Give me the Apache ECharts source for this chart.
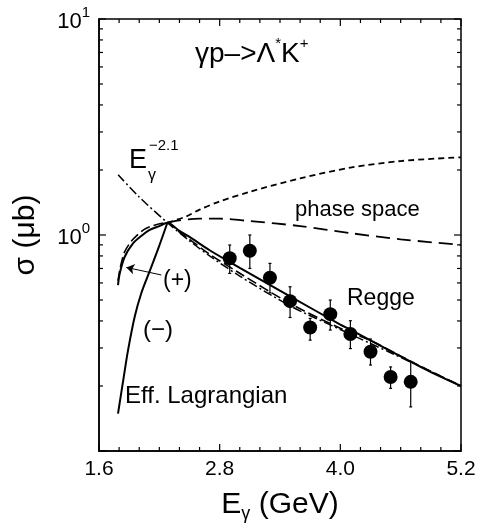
<!DOCTYPE html>
<html>
<head>
<meta charset="utf-8">
<script src="https://cdn.jsdelivr.net/npm/echarts@6/dist/echarts.min.js"></script>
<style>
html,body{margin:0;padding:0;background:#fff;}
#chart{width:479px;height:531px;}
</style>
</head>
<body>
<div id="chart"></div>
<script>
// ---------- data ----------
const energies = [2.9, 3.1, 3.3, 3.5, 3.7, 3.9, 4.1, 4.3, 4.5, 4.7];
const sigmaData = [0.78, 0.846, 0.634, 0.494, 0.373, 0.43, 0.348, 0.288, 0.22, 0.209];
const errLow  = [0.664, 0.70, 0.54, 0.415, 0.326, 0.363, 0.298, 0.25, 0.195, 0.16];
const errHigh = [0.899, 1.0, 0.739, 0.576, 0.411, 0.50, 0.401, 0.33, 0.245, 0.259];

// Eff. Lagrangian (+) joined to Regge, solid
const plusSolid = [[1.789,0.586],[1.806,0.664],[1.856,0.793],[1.938,0.915],[2.02,0.99],[2.104,1.055],[2.2,1.10],[2.28,1.14],
  [2.4,1.045],[2.5,0.98],[2.7,0.85],[3.0,0.705],[3.5,0.52],[4.0,0.385],[4.1,0.365],[4.5,0.29],[4.7,0.259],[4.9,0.232],[5.2,0.2]];
// (+) dashed variant
const plusDashed = [[1.789,0.614],[1.813,0.713],[1.856,0.837],[1.938,0.955],[2.071,1.074],[2.28,1.14],
  [2.4,1.03],[2.5,0.955],[2.7,0.815],[3.0,0.665],[3.5,0.482],[4.0,0.37],[4.3,0.325],[4.6,0.275],[5.0,0.222],[5.2,0.2]];
// Eff. Lagrangian (-) solid
const minusSolid = [[1.789,0.149],[1.846,0.22],[1.889,0.293],[1.955,0.418],[2.022,0.54],[2.104,0.68],[2.187,0.86],[2.28,1.14]];
// E^-2.1 dash-dot
const powerLaw = [[1.79,1.9],[2.0,1.5],[2.28,1.14],[2.5,0.94],[2.7,0.80],[3.0,0.645],[3.5,0.47],[4.0,0.365],[4.5,0.285],[5.0,0.222],[5.2,0.2]];
// upper short-dashed curve
const upperDashed = [[2.28,1.14],[2.47,1.22],[2.6,1.31],[2.8,1.43],[3.1,1.585],[3.6,1.83],[4.1,2.05],[4.6,2.2],[5.2,2.29]];
// phase space long-dashed curve
const phaseSpace = [[2.28,1.14],[2.4,1.17],[2.6,1.19],[2.8,1.19],[3.1,1.16],[3.6,1.10],[4.1,1.02],[4.6,0.955],[5.2,0.9]];
// arrow from "(+)" label to the (+) curves
const arrowFrom = [2.22, 0.653];
const arrowTo = [1.872, 0.708];

// ---------- ticks ----------
const xTickValues = [1.6,1.8,2.0,2.2,2.4,2.6,2.8,3.0,3.2,3.4,3.6,3.8,4.0,4.2,4.4,4.6,4.8,5.0,5.2];
const xMajorTicks = [1.6, 2.8, 4.0, 5.2];
const yTickValues = [0.1,0.2,0.3,0.4,0.5,0.6,0.7,0.8,0.9,1,2,3,4,5,6,7,8,9,10];
const yMajorTicks = [0.1, 1, 10];
const yLabelValues = [1, 10];
const yLabelExps = ['0', '1'];

const FONT = '"Liberation Sans", Arial, Helvetica, sans-serif';
const near = (a, b) => Math.abs(a - b) < 1e-6 * Math.max(1, Math.abs(b));

const chart = echarts.init(document.getElementById('chart'), null, {renderer: 'canvas'});

function lineSeries(name, data, width, type, z) {
  return {
    name, type: 'line', data, symbol: 'none', showSymbol: false, smooth: 0.3,
    lineStyle: {color: '#000', width, type}, z: z || 2, silent: true
  };
}

const option = {
  animation: false,
  backgroundColor: '#fff',
  grid: {left: 99, right: 18, top: 19, bottom: 80, show: true, borderColor: '#000', borderWidth: 1.5, backgroundColor: 'transparent'},
  xAxis: {
    type: 'value', min: 1.6, max: 5.2, interval: 0.2,
    axisLine: {show: true, lineStyle: {color: '#000', width: 1.5}},
    axisTick: {show: false}, splitLine: {show: false},
    axisLabel: {
      fontSize: 21, color: '#000', fontFamily: FONT, margin: 8,
      formatter: v => xMajorTicks.some(t => near(t, v)) ? v.toFixed(1) : ''
    },
    name: '{a|E}{g|γ}{a| (GeV)}', nameLocation: 'middle', nameGap: 39,
    nameTextStyle: {
      rich: {
        a: {fontSize: 30, fontFamily: FONT, color: '#000', lineHeight: 30, verticalAlign: 'top'},
        g: {fontSize: 18, fontFamily: FONT, color: '#000', lineHeight: 18, padding: [18, 0, 0, 0]}
      }
    }
  },
  yAxis: {
    type: 'log', logBase: 10, min: 0.1, max: 10,
    axisLine: {show: true, lineStyle: {color: '#000', width: 1.5}},
    axisTick: {show: false}, splitLine: {show: false}, minorTick: {show: false},
    axisLabel: {
      margin: 9,
      formatter: v => {
        const i = yLabelValues.findIndex(t => near(t, v));
        return i < 0 ? '' : '{b|10}{s|' + yLabelExps[i] + '}';
      },
      rich: {
        b: {fontSize: 22, fontFamily: FONT, color: '#000', lineHeight: 28, verticalAlign: 'bottom'},
        s: {fontSize: 15, fontFamily: FONT, color: '#000', lineHeight: 15, verticalAlign: 'top'}
      }
    },
    name: 'σ (μb)', nameLocation: 'middle', nameGap: 58,
    nameTextStyle: {fontSize: 30, fontFamily: FONT, color: '#000'}
  },
  graphic: [
    {type: 'text', x: 195, y: 52, silent: true, style: {
      text: '{n|γp–>Λ}{s|*}{n|K}{s|+}', verticalAlign: 'middle', fill: '#000',
      rich: {
        n: {fontSize: 28, fontFamily: FONT, fill: '#000', lineHeight: 32, verticalAlign: 'bottom'},
        s: {fontSize: 15, fontFamily: FONT, fill: '#000', lineHeight: 15, verticalAlign: 'top'}
      }}},
    {type: 'text', x: 129, y: 161, silent: true, style: {text: 'E', fontSize: 27, fontFamily: FONT, fill: '#000', verticalAlign: 'middle'}},
    {type: 'text', x: 148, y: 176, silent: true, style: {text: 'γ', fontSize: 16, fontFamily: FONT, fill: '#000', verticalAlign: 'middle'}},
    {type: 'text', x: 149, y: 146, silent: true, style: {text: '−2.1', fontSize: 15, fontFamily: FONT, fill: '#000', verticalAlign: 'middle'}},
    {type: 'text', x: 295, y: 210, silent: true, style: {text: 'phase space', fontSize: 22, fontFamily: FONT, fill: '#000', verticalAlign: 'middle'}},
    {type: 'text', x: 347, y: 299, silent: true, style: {text: 'Regge', fontSize: 23, fontFamily: FONT, fill: '#000', verticalAlign: 'middle'}},
    {type: 'text', x: 163, y: 281, silent: true, style: {text: '(+)', fontSize: 23, fontFamily: FONT, fill: '#000', verticalAlign: 'middle'}},
    {type: 'text', x: 143, y: 330, silent: true, style: {text: '(−)', fontSize: 24, fontFamily: FONT, fill: '#000', verticalAlign: 'middle'}},
    {type: 'text', x: 125, y: 396, silent: true, style: {text: 'Eff. Lagrangian', fontSize: 24, fontFamily: FONT, fill: '#000', verticalAlign: 'middle'}}
  ],
  series: [
    lineSeries('phase space', phaseSpace, 1.8, [14, 7]),
    lineSeries('upper', upperDashed, 1.8, [6, 4]),
    lineSeries('E^-2.1', powerLaw, 1.5, [9, 3, 2, 3]),
    lineSeries('(+) dashed', plusDashed, 1.6, [10, 4]),
    Object.assign(lineSeries('(-)', minusSolid, 2, 'solid'), {
      markLine: {
        silent: true, symbol: ['none', 'arrow'], symbolSize: 8,
        label: {show: false}, lineStyle: {color: '#000', width: 1, type: 'solid'},
        data: [[{coord: arrowFrom}, {coord: arrowTo}]]
      }
    }),
    lineSeries('(+) solid / Regge', plusSolid, 2, 'solid', 3),
    {
      name: 'errors', type: 'custom', silent: true, z: 4,
      data: energies.map((e, i) => [e, errLow[i], errHigh[i]]),
      encode: {x: 0, y: [1, 2]},
      renderItem: (params, api) => {
        const lo = api.coord([api.value(0), api.value(1)]);
        const hi = api.coord([api.value(0), api.value(2)]);
        const st = {stroke: '#000', lineWidth: 1.2};
        return {type: 'group', children: [
          {type: 'line', shape: {x1: lo[0], y1: lo[1], x2: hi[0], y2: hi[1]}, style: st},
          {type: 'line', shape: {x1: lo[0] - 1.5, y1: lo[1], x2: lo[0] + 1.5, y2: lo[1]}, style: st},
          {type: 'line', shape: {x1: hi[0] - 1.5, y1: hi[1], x2: hi[0] + 1.5, y2: hi[1]}, style: st}
        ]};
      }
    },
    {
      name: 'data', type: 'scatter', symbol: 'circle', symbolSize: 14, z: 5, silent: true,
      itemStyle: {color: '#000', opacity: 1},
      data: energies.map((e, i) => [e, sigmaData[i]])
    },
    {
      name: 'xticks', type: 'custom', silent: true, z: 6,
      data: xTickValues.map(v => [v, 1]),
      encode: {x: 0, y: 1},
      renderItem: (params, api) => {
        const v = api.value(0);
        const p = api.coord([v, 1]);
        const cs = params.coordSys;
        const len = xMajorTicks.some(t => near(t, v)) ? 7 : 4;
        const st = {stroke: '#000', lineWidth: 1.2};
        return {type: 'group', children: [
          {type: 'line', shape: {x1: p[0], y1: cs.y + cs.height, x2: p[0], y2: cs.y + cs.height - len}, style: st},
          {type: 'line', shape: {x1: p[0], y1: cs.y, x2: p[0], y2: cs.y + len}, style: st}
        ]};
      }
    },
    {
      name: 'yticks', type: 'custom', silent: true, z: 6,
      data: yTickValues.map(v => [1.6, v]),
      encode: {x: 0, y: 1},
      renderItem: (params, api) => {
        const v = api.value(1);
        const p = api.coord([1.6, v]);
        const cs = params.coordSys;
        const len = yMajorTicks.some(t => near(t, v)) ? 7 : 4;
        const st = {stroke: '#000', lineWidth: 1.2};
        return {type: 'group', children: [
          {type: 'line', shape: {x1: cs.x, y1: p[1], x2: cs.x + len, y2: p[1]}, style: st},
          {type: 'line', shape: {x1: cs.x + cs.width, y1: p[1], x2: cs.x + cs.width - len, y2: p[1]}, style: st}
        ]};
      }
    }
  ]
};
chart.setOption(option);
</script>
</body>
</html>
